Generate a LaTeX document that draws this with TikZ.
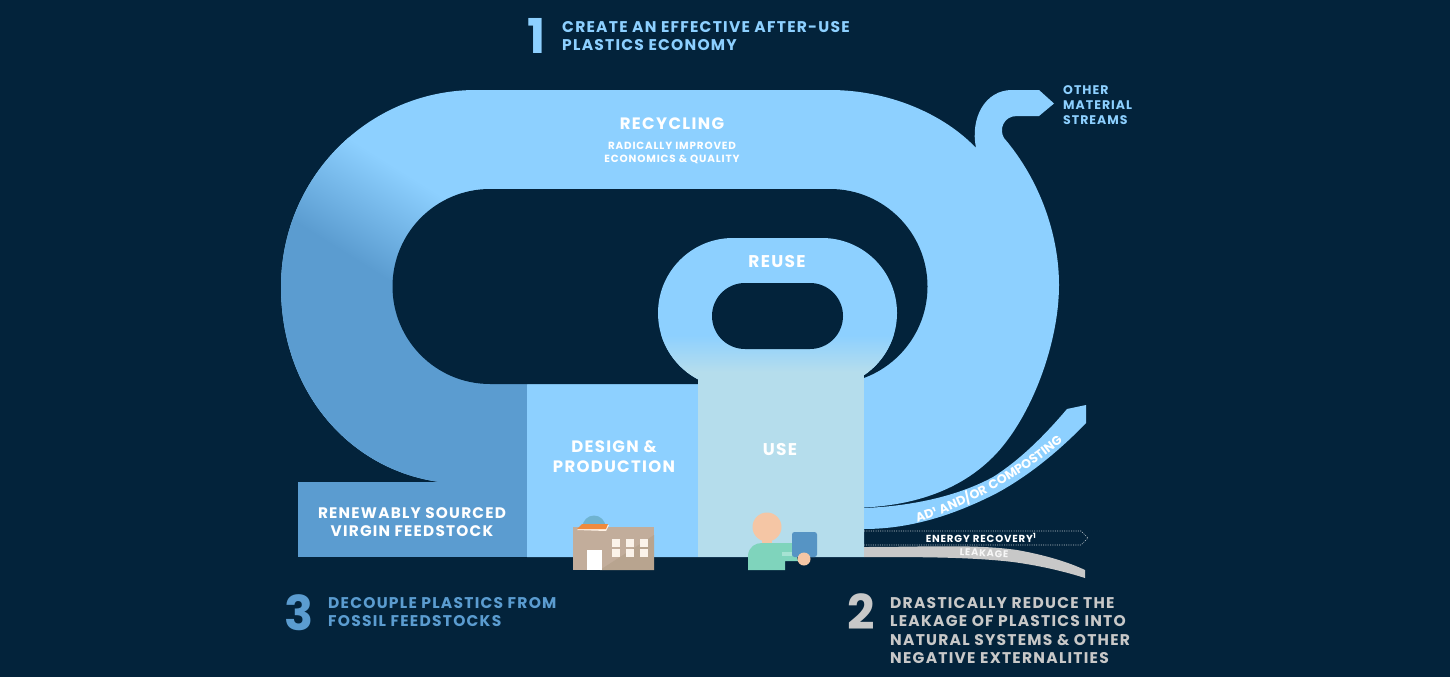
\documentclass[tikz,border=0pt]{standalone}
\usepackage{fontspec}
\setmainfont{Poppins}[LetterSpace=8]
\usetikzlibrary{decorations.text}
\definecolor{bgc}{HTML}{03233B}
\definecolor{lt}{HTML}{8DD0FF}
\definecolor{dk}{HTML}{5B9CD0}
\definecolor{pale}{HTML}{B5DDEC}
\definecolor{gry}{HTML}{C8C8C8}
\definecolor{globe}{HTML}{6FB3D0}
\definecolor{tan1}{HTML}{C2AD9B}
\definecolor{tan2}{HTML}{B8A48F}
\definecolor{roof}{HTML}{F08A3C}
\definecolor{wind}{HTML}{FBF3EA}
\definecolor{skin}{HTML}{F5C6A5}
\definecolor{teal1}{HTML}{7FD4BC}
\definecolor{teal2}{HTML}{A6E3D3}
\definecolor{tablet}{HTML}{5694C4}
\tikzset{
  lab/.style={text=white,font=\bfseries\fontsize{#1}{#1}\selectfont,inner sep=0pt},
  headtxt/.style={text=#1,font=\bfseries\fontsize{15.5}{18.6}\selectfont,align=left,anchor=west,inner sep=0pt},
  num/.style={font=\bfseries\fontsize{48}{48}\selectfont,inner sep=0pt},
  dots/.style={draw=white!75!bgc,line width=.6pt,dash pattern=on 1pt off 1.3pt},
}
\begin{document}
\begin{tikzpicture}[x=1pt,y=-1pt]
\useasboundingbox (0,0) rectangle (1450,677);
\fill[bgc] (0,0) rectangle (1450,677);
% main loop
\fill[lt] (440,482) .. controls (350,470) and (281,392) .. (281,287) .. controls (281,178) and (368,90) .. (476,90) -- (830,90)
  .. controls (890,90) and (945,115) .. (976,148)
  .. controls (970,118) and (985,90) .. (1012,90) -- (1039,90) -- (1054,103.5) -- (1039,116) -- (1017,116)
  .. controls (1003,116) and (999,130) .. (1004,138)
  .. controls (1040,180) and (1059,235) .. (1059,285)
  .. controls (1059,345) and (1030,420) .. (993,457)
  .. controls (960,490) and (915,505) .. (864,507.5) -- (864,557) -- (527,557) -- (527,482) -- cycle;
\begin{scope}
  \clip (270,80) rectangle (527,560);
  \clip (440,482) .. controls (350,470) and (281,392) .. (281,287) .. controls (281,178) and (368,90) .. (476,90) -- (560,90) -- (560,482) -- cycle;
  \begin{scope}[transform canvas={rotate around={-32:(343,252)}}]
    \shade[top color=lt,bottom color=dk] (100,152) rectangle (700,252);
    \fill[dk] (100,251.5) rectangle (900,800);
  \end{scope}
\end{scope}
% feedstock
\fill[dk] (298,482) rectangle (527,557);
% inner opening
\fill[bgc] (490,189) -- (830,189) arc[start angle=-90,end angle=90,radius=97.5] -- (490,384) arc[start angle=90,end angle=270,radius=97.5] -- cycle;
% reuse ring
\fill[lt] (733,238) -- (822,238) arc[start angle=-90,end angle=90,radius=75] -- (733,388) arc[start angle=90,end angle=270,radius=75] -- cycle;
\begin{scope}
  \clip (733,238) -- (822,238) arc[start angle=-90,end angle=90,radius=75] -- (733,388) arc[start angle=90,end angle=270,radius=75] -- cycle;
  \shade[top color=lt,bottom color=pale] (650,335) rectangle (900,372);
  \fill[pale] (650,371.5) rectangle (900,392);
\end{scope}
\fill[bgc] (745,283) -- (810,283) arc[start angle=-90,end angle=90,radius=33] -- (745,349) arc[start angle=90,end angle=270,radius=33] -- cycle;
% design and use blocks
\fill[lt] (527,385) rectangle (698,557);
\fill[pale] (698,371.5) rectangle (864,557);
% AD stream
\fill[lt] (864,508) .. controls (915,506) and (960,495) .. (993,477)
  .. controls (1020,460) and (1045,435) .. (1067,409) -- (1086,405) -- (1086,423)
  .. controls (1060,450) and (1030,475) .. (997,493)
  .. controls (960,512) and (915,529) .. (864,529) -- cycle;
% energy recovery
\draw[dots] (864,531) -- (1081,531) -- (1088,538) -- (1081,545) -- (864,545);
% leakage
\fill[gry] (864,547) .. controls (925,547) and (975,544) .. (1017,550)
  .. controls (1045,555) and (1068,562) .. (1085,570) -- (1085,578)
  .. controls (1060,570) and (1035,565) .. (1013,562)
  .. controls (970,557) and (920,557) .. (864,557) -- cycle;
% factory
\fill[globe] (594,527) circle[radius=11.5];
\fill[tan1] (573,527) rectangle (654,570);
\fill[tan2] (600,570) -- (654,535) -- (654,570) -- cycle;
\fill[white!90!orange] (577,530) -- (582,525) -- (609,525) -- (606,531) -- cycle;
\fill[roof] (577,529) -- (582,524) -- (608,524) -- (606,529) -- cycle;
\fill[white] (587,550) rectangle (602,570);
\foreach \wx in {612,626,640} \foreach \wy in {539,549} {\fill[wind] (\wx,\wy) rectangle ++(7.5,8);}
% person
\fill[skin] (767,527) circle[radius=14.5];
\fill[skin] (762,535) rectangle (772,545);
\fill[teal1] (748,570) -- (748,555) .. controls (749,547) and (755,543) .. (762,543) -- (793,543) -- (798,561) -- (785,561) -- (785,570) -- cycle;
\fill[teal2] (782,552) rectangle (792,556);
\fill[tablet,rounded corners=2.5pt] (792,532) rectangle (817,557);
\fill[skin] (804,559) circle[radius=6.5];
% labels
\node[num,text=lt] (n1) at (537,36) {1};
\node[headtxt=lt] (t1) at (562,36) {CREATE AN EFFECTIVE AFTER-USE\\PLASTICS ECONOMY};
\node[num,text=dk] (n3) at (299,613) {3};
\node[headtxt=dk] (t3) at (328,612) {DECOUPLE PLASTICS FROM\\FOSSIL FEEDSTOCKS};
\node[num,text=gry] (n2) at (861,612) {2};
\node[headtxt=gry] (t2) at (890,630.5) {DRASTICALLY REDUCE THE\\LEAKAGE OF PLASTICS INTO\\NATURAL SYSTEMS \& OTHER\\NEGATIVE EXTERNALITIES};
\node[text=lt,font=\bfseries\fontsize{12.5}{15}\selectfont,align=left,anchor=west,inner sep=0pt] (t4) at (1063,105) {OTHER\\MATERIAL\\STREAMS};
\node[lab=16.5] (rec) at (672,124) {RECYCLING};
\node[lab=10,align=center,font=\bfseries\fontsize{10.4}{13}\selectfont] (rec2) at (672,152.5) {RADICALLY IMPROVED\\ECONOMICS \& QUALITY};
\node[lab=17] (reu) at (777,262) {REUSE};
\node[lab=15,align=center,font=\bfseries\fontsize{16.5}{20}\selectfont] (des) at (614,457) {DESIGN \&\\PRODUCTION};
\node[lab=17] (use) at (780,450) {USE};
\node[lab=14,align=center,font=\bfseries\fontsize{15.3}{18}\selectfont] (ren) at (412,522) {RENEWABLY SOURCED\\VIRGIN FEEDSTOCK};
\node[lab=10.2] (en) at (981,538) {ENERGY RECOVERY\textsuperscript{1}};
\node[lab=9.8,rotate=-3,text=white!85!gry] (lk) at (984,553) {LEAKAGE};
\path[decorate,decoration={text along path,text align=center,
  text={|\color{white}\bfseries\fontsize{12.6}{12.6}\selectfont|AD¹ AND/OR COMPOSTING}}]
  (906,526) .. controls (965,509) and (1020,479) .. (1072,434);
\end{tikzpicture}
\end{document}
